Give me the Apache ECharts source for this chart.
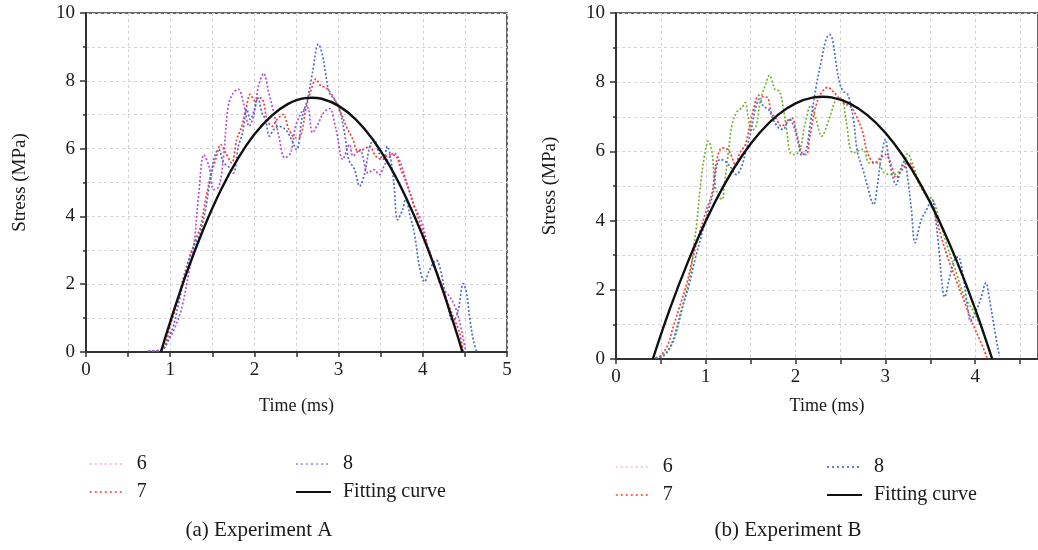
<!DOCTYPE html>
<html>
<head>
<meta charset="utf-8">
<script src="https://cdn.jsdelivr.net/npm/echarts@6/dist/echarts.min.js"></script>
<style>
html,body{margin:0;padding:0;background:#fff;}
#c{width:1038px;height:550px;}
</style>
</head>
<body>
<div id="c"></div>
<script>
// ---------- Experiment A data: [time (ms), stress (MPa)] ----------
const a6 = [[0.74,0.03],[0.89,0.05],[0.98,0.35],[1.06,0.74],[1.14,1.33],[1.22,2.32],[1.28,3.11],[1.34,4.69],[1.40,5.82],[1.46,5.48],[1.52,4.79],[1.58,4.89],[1.63,5.68],[1.69,7.26],[1.75,7.65],[1.81,7.75],[1.87,7.35],[1.94,6.66],[1.99,6.96],[2.05,7.85],[2.11,8.22],[2.17,7.65],[2.23,7.06],[2.29,6.37],[2.36,5.73],[2.43,5.87],[2.49,6.66],[2.57,7.11],[2.63,7.21],[2.69,6.47],[2.75,6.70],[2.82,7.05],[2.89,7.18],[2.97,6.56],[3.05,5.68],[3.13,6.12],[3.17,5.78],[3.25,5.97],[3.35,5.28],[3.42,5.38],[3.48,5.23],[3.56,5.58],[3.66,5.87],[3.72,5.68],[3.80,5.08],[3.90,4.29],[3.98,3.90],[4.06,3.11],[4.14,2.52],[4.22,1.92],[4.32,1.63],[4.40,1.23],[4.46,0.64],[4.51,0.00]];
const a7 = [[0.74,0.03],[0.89,0.05],[1.02,0.94],[1.08,1.43],[1.16,2.22],[1.22,2.71],[1.30,3.31],[1.36,3.70],[1.42,4.49],[1.48,5.18],[1.54,5.68],[1.60,6.12],[1.66,5.87],[1.73,5.58],[1.79,6.27],[1.85,6.66],[1.90,7.16],[1.95,7.60],[2.01,7.40],[2.05,7.50],[2.10,7.45],[2.15,6.86],[2.21,6.66],[2.27,6.86],[2.34,7.01],[2.41,6.56],[2.49,6.32],[2.55,6.37],[2.61,7.16],[2.67,7.70],[2.73,8.05],[2.79,7.85],[2.85,7.80],[2.93,7.55],[3.01,7.16],[3.09,6.66],[3.17,6.27],[3.23,5.92],[3.29,5.97],[3.37,6.07],[3.44,5.78],[3.52,5.68],[3.60,5.82],[3.68,5.78],[3.74,5.38],[3.82,4.89],[3.90,4.29],[3.98,3.70],[4.06,3.11],[4.14,2.52],[4.22,2.02],[4.30,1.43],[4.38,0.94],[4.44,0.54],[4.48,0.00]];
const a8 = [[0.74,0.03],[0.89,0.05],[1.02,0.64],[1.10,1.43],[1.18,2.32],[1.26,3.01],[1.34,3.41],[1.42,4.20],[1.48,5.18],[1.54,5.87],[1.58,5.97],[1.63,5.58],[1.69,5.48],[1.75,5.28],[1.81,6.07],[1.86,6.47],[1.91,7.16],[1.95,6.86],[2.00,7.16],[2.04,7.50],[2.09,7.06],[2.13,6.86],[2.18,6.37],[2.23,6.56],[2.29,6.66],[2.37,6.56],[2.43,6.32],[2.50,5.97],[2.57,6.96],[2.63,7.45],[2.69,8.24],[2.76,9.08],[2.81,8.74],[2.85,8.14],[2.89,7.65],[2.95,7.45],[3.01,7.16],[3.07,6.47],[3.12,5.68],[3.19,5.38],[3.25,4.89],[3.31,5.28],[3.37,6.07],[3.42,6.27],[3.48,5.87],[3.53,5.68],[3.58,6.07],[3.62,5.68],[3.66,4.89],[3.70,3.90],[3.76,4.20],[3.80,4.54],[3.84,4.10],[3.90,3.50],[3.96,2.52],[4.02,2.07],[4.08,2.42],[4.16,2.71],[4.22,2.32],[4.28,1.53],[4.36,0.89],[4.42,1.23],[4.48,2.02],[4.52,1.73],[4.56,0.94],[4.60,0.35],[4.64,0.00]];
const aFit = [[0.89,0.00],[1.00,0.89],[1.20,2.37],[1.40,3.66],[1.60,4.77],[1.80,5.69],[2.00,6.42],[2.20,6.96],[2.40,7.32],[2.60,7.49],[2.68,7.50],[2.80,7.47],[3.00,7.26],[3.20,6.87],[3.40,6.29],[3.60,5.52],[3.80,4.56],[4.00,3.42],[4.20,2.09],[4.40,0.58],[4.47,0.00]];

// ---------- Experiment B data ----------
const b6 = [[0.44,0.03],[0.53,0.13],[0.60,0.32],[0.66,0.66],[0.71,1.14],[0.77,1.81],[0.83,2.49],[0.86,3.16],[0.90,3.93],[0.94,5.00],[0.99,5.96],[1.03,6.30],[1.07,5.96],[1.10,5.09],[1.14,4.71],[1.18,4.61],[1.21,5.09],[1.25,5.96],[1.29,6.73],[1.34,7.12],[1.40,7.26],[1.44,7.41],[1.47,7.02],[1.51,6.59],[1.56,6.73],[1.61,7.50],[1.66,7.89],[1.71,8.20],[1.77,7.79],[1.82,7.74],[1.86,7.31],[1.90,6.63],[1.94,5.96],[1.99,5.91],[2.05,6.06],[2.10,6.73],[2.17,7.33],[2.23,6.90],[2.29,6.44],[2.37,6.90],[2.45,7.50],[2.51,7.55],[2.56,6.94],[2.64,5.96],[2.75,6.06],[2.82,5.67],[2.91,5.67],[2.99,5.38],[3.08,5.33],[3.16,5.43],[3.21,5.67],[3.25,5.94],[3.30,5.67],[3.38,5.09],[3.47,4.71],[3.53,4.61],[3.60,4.03],[3.69,3.26],[3.79,2.49],[3.88,1.81],[3.97,1.43],[4.06,0.95],[4.14,0.41],[4.19,0.00]];
const b7 = [[0.44,0.03],[0.49,0.08],[0.57,0.37],[0.64,0.95],[0.71,1.52],[0.79,2.20],[0.86,2.97],[0.94,3.74],[1.01,4.32],[1.07,4.80],[1.11,5.57],[1.16,6.06],[1.21,6.10],[1.27,5.96],[1.33,5.62],[1.38,5.96],[1.44,6.20],[1.49,6.73],[1.54,7.31],[1.59,7.62],[1.64,7.58],[1.69,7.55],[1.73,7.12],[1.79,6.92],[1.84,6.73],[1.90,6.83],[1.96,6.97],[2.01,6.54],[2.07,5.96],[2.12,5.91],[2.16,6.45],[2.25,7.50],[2.36,7.85],[2.43,7.70],[2.53,7.41],[2.62,7.27],[2.69,6.94],[2.75,6.54],[2.80,5.96],[2.88,5.67],[2.95,5.82],[3.00,5.91],[3.06,5.67],[3.12,5.24],[3.19,5.48],[3.27,5.67],[3.32,5.38],[3.41,4.90],[3.51,4.50],[3.56,4.13],[3.62,3.55],[3.69,2.97],[3.80,2.20],[3.90,1.52],[3.97,1.04],[4.06,0.50],[4.14,0.00]];
const b8 = [[0.44,0.03],[0.51,0.06],[0.59,0.27],[0.66,0.75],[0.73,1.43],[0.81,2.10],[0.88,2.87],[0.96,3.65],[1.03,4.32],[1.09,4.90],[1.12,5.57],[1.16,5.77],[1.21,5.72],[1.27,5.57],[1.34,5.33],[1.40,5.57],[1.46,6.15],[1.50,6.54],[1.55,7.21],[1.60,7.52],[1.64,7.31],[1.70,7.21],[1.75,6.92],[1.81,6.68],[1.86,6.63],[1.93,6.94],[1.98,6.73],[2.03,6.25],[2.07,5.88],[2.12,6.06],[2.16,6.73],[2.23,7.89],[2.29,8.66],[2.34,9.24],[2.38,9.38],[2.41,9.24],[2.45,8.56],[2.49,7.98],[2.53,7.74],[2.58,7.65],[2.64,7.02],[2.69,5.96],[2.75,5.48],[2.80,5.00],[2.87,4.46],[2.91,5.00],[2.95,5.77],[3.00,6.35],[3.04,5.77],[3.12,5.04],[3.17,5.48],[3.21,5.72],[3.25,5.19],[3.29,4.32],[3.33,3.36],[3.40,4.03],[3.45,4.27],[3.52,4.61],[3.56,4.03],[3.60,3.07],[3.63,2.20],[3.66,1.79],[3.71,2.30],[3.77,2.87],[3.81,2.95],[3.86,2.49],[3.91,1.62],[3.95,1.09],[4.00,1.33],[4.06,1.72],[4.12,2.20],[4.16,1.72],[4.21,0.95],[4.27,0.08]];
const bFit = [[0.41,0.00],[0.60,1.45],[0.80,2.80],[1.00,3.99],[1.20,5.01],[1.40,5.86],[1.60,6.54],[1.80,7.05],[2.00,7.39],[2.20,7.56],[2.30,7.58],[2.40,7.56],[2.60,7.39],[2.80,7.05],[3.00,6.54],[3.20,5.86],[3.40,5.01],[3.60,3.99],[3.80,2.80],[4.00,1.45],[4.19,0.00]];

const legendNames = ['6', '7', '8', 'Fitting curve'];
const captions = ['(a) Experiment A', '(b) Experiment B'];
const xName = 'Time (ms)';
const yName = 'Stress (MPa)';

const FONT = '"Liberation Serif", "DejaVu Serif", serif';
const TXT = '#1a1a1a';
const AX = '#333';
const NOSYM = {color: 'rgba(0,0,0,0)', borderColor: 'rgba(0,0,0,0)', borderWidth: 0, opacity: 0};

function xAxis(gi, max, gap) {
  return {
    type: 'value', gridIndex: gi, min: 0, max: max, interval: 0.5,
    name: xName, nameLocation: 'middle', nameGap: gap,
    nameTextStyle: {fontFamily: FONT, fontSize: 18, color: TXT},
    axisLine: {lineStyle: {color: AX, width: 2}},
    axisTick: {inside: false, length: 5, lineStyle: {color: AX, width: 1.5}},
    axisLabel: {fontFamily: FONT, fontSize: 19, color: TXT, margin: 9, showMaxLabel: Number.isInteger(max),
      formatter: v => (Math.abs(v - Math.round(v)) < 1e-6 ? String(Math.round(v)) : '')},
    splitLine: {show: true, lineStyle: {color: '#d4d4d4', type: [3, 3], width: 1}}
  };
}
function yAxis(gi, gap) {
  return {
    type: 'value', gridIndex: gi, min: 0, max: 10, interval: 2,
    name: yName, nameLocation: 'middle', nameGap: gap,
    nameTextStyle: {fontFamily: FONT, fontSize: 19, color: TXT},
    axisLine: {show: true, lineStyle: {color: AX, width: 2}},
    axisTick: {show: true, length: 6, lineStyle: {color: AX, width: 1.5}},
    minorTick: {show: true, splitNumber: 2, length: 3, lineStyle: {color: AX, width: 1.5}},
    axisLabel: {fontFamily: FONT, fontSize: 19, color: TXT, margin: 11},
    splitLine: {show: true, lineStyle: {color: '#d4d4d4', type: [3, 3], width: 1}},
    minorSplitLine: {show: true, lineStyle: {color: '#d4d4d4', type: [3, 3], width: 1}}
  };
}
function dotted(name, data, color, xi) {
  return {
    name: name, type: 'line', xAxisIndex: xi, yAxisIndex: xi, data: data,
    smooth: 0.35, symbol: 'none', showSymbol: false, animation: false,
    lineStyle: {color: color, width: 1.7, type: [2, 2]}, itemStyle: {color: color}, z: 2
  };
}
function fit(data, xi) {
  return {
    name: legendNames[3], type: 'line', xAxisIndex: xi, yAxisIndex: xi, data: data,
    smooth: 0.4, symbol: 'none', showSymbol: false, animation: false,
    lineStyle: {color: '#111', width: 2.4, type: 'solid'}, itemStyle: {color: '#111'}, z: 5
  };
}
function legend(left, top, items) {
  return {
    orient: 'vertical', left: left, top: top, padding: 0, itemGap: 8, itemWidth: 35, itemHeight: 14,
    selectedMode: false,
    textStyle: {fontFamily: FONT, fontSize: 20, color: TXT, padding: [0, 0, 0, 7]},
    data: items
  };
}
const dashLegend = (name, color) => ({name: name, lineStyle: {color: color, type: [2, 3], width: 1.6}, itemStyle: NOSYM});
const solidLegend = (name) => ({name: name, lineStyle: {color: '#111', type: 'solid', width: 2}, itemStyle: NOSYM});

const chart = echarts.init(document.getElementById('c'), null, {renderer: 'canvas'});
chart.setOption({
  animation: false,
  backgroundColor: '#fff',
  grid: [
    {left: 86, top: 13, width: 421, height: 339, show: true, borderColor: AX, borderWidth: 1.5, containLabel: false},
    {left: 616, top: 13, width: 422, height: 346, show: true, borderColor: AX, borderWidth: 1.5, containLabel: false}
  ],
  xAxis: [xAxis(0, 5, 45), xAxis(1, 4.7, 38)],
  yAxis: [yAxis(0, 56), yAxis(1, 56)],
  legend: [
    legend(89, 454, [dashLegend(legendNames[0], '#f3a6e6'), dashLegend(legendNames[1], '#ff3a3a')]),
    legend(295, 454, [dashLegend(legendNames[2], '#8c8ce6'), solidLegend(legendNames[3])]),
    legend(615, 457, [dashLegend(legendNames[0], '#f4b6e2'), dashLegend(legendNames[1], '#ff3a3a')]),
    legend(826, 457, [dashLegend(legendNames[2], '#3d4fb0'), solidLegend(legendNames[3])])
  ],
  graphic: [
    {type: 'text', style: {text: captions[0], x: 259, y: 530, align: 'center', verticalAlign: 'middle', fontFamily: FONT, fontSize: 21, fill: TXT}},
    {type: 'text', style: {text: captions[1], x: 788, y: 530, align: 'center', verticalAlign: 'middle', fontFamily: FONT, fontSize: 21, fill: TXT}}
  ],
  series: [
    dotted(legendNames[0], a6, '#b64fd8', 0),
    dotted(legendNames[1], a7, '#ff3b3b', 0),
    dotted(legendNames[2], a8, '#4a70cc', 0),
    fit(aFit, 0),
    dotted(legendNames[0], b6, '#72b52c', 1),
    dotted(legendNames[1], b7, '#ff3b3b', 1),
    dotted(legendNames[2], b8, '#4a70cc', 1),
    fit(bFit, 1)
  ]
});
</script>
</body>
</html>
